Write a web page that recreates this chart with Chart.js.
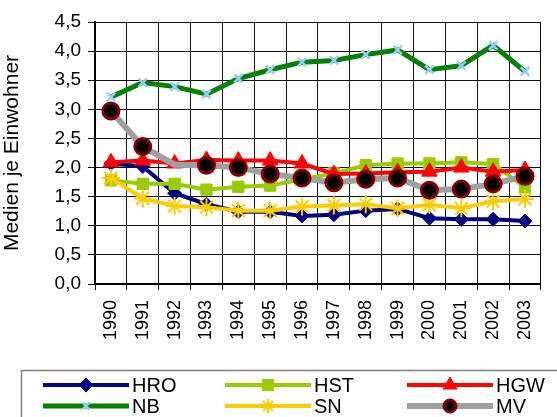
<!DOCTYPE html>
<html>
<head>
<meta charset="utf-8">
<script src="https://cdn.jsdelivr.net/npm/chart.js@4/dist/chart.umd.min.js"></script>
<style>
html,body{margin:0;padding:0;background:#fff;}
#wrap{position:relative;width:557px;height:417px;}
</style>
</head>
<body>
<div id="wrap"><canvas id="c" width="557" height="417"></canvas></div>
<script>
const years = ['1990','1991','1992','1993','1994','1995','1996','1997','1998','1999','2000','2001','2002','2003'];
const yTicks = [0,0.5,1,1.5,2,2.5,3,3.5,4,4.5];
const HRO = [2.07,2.02,1.56,1.37,1.24,1.24,1.17,1.19,1.26,1.29,1.13,1.11,1.11,1.08];
const HST = [1.78,1.72,1.72,1.62,1.67,1.69,1.80,1.90,2.04,2.07,2.07,2.09,2.06,1.66];
const HGW = [2.09,2.12,2.07,2.13,2.12,2.12,2.07,1.89,1.90,1.92,1.93,2.00,1.93,1.96];
const NB  = [3.21,3.46,3.39,3.26,3.53,3.68,3.81,3.84,3.94,4.02,3.68,3.75,4.10,3.65];
const SN  = [1.82,1.47,1.34,1.32,1.26,1.26,1.33,1.35,1.37,1.30,1.36,1.30,1.42,1.46];
const MV  = [2.97,2.36,2.05,2.04,2.00,1.89,1.82,1.74,1.80,1.82,1.61,1.63,1.72,1.85];
// MV marker for 1992 is not visible in the original (hidden behind HGW)
const MV_HIDDEN_MARKER = [2];

const FONT = "'Liberation Sans', Arial, sans-serif";

const datasets = [
  {label:'HRO', data:HRO, borderColor:'#000080', borderWidth:4, pointStyle:'rectRot', pointRadius:7, pointBackgroundColor:'#000080', pointBorderColor:'#000080', pointBorderWidth:1, order:6, legR:7},
  {label:'HST', data:HST, borderColor:'#99CC00', borderWidth:4, pointStyle:'rect', pointRadius:8, pointBackgroundColor:'#99CC00', pointBorderColor:'#99CC00', pointBorderWidth:1, order:5, legR:8},
  {label:'HGW', data:HGW, borderColor:'#FF0000', borderWidth:4, pointStyle:'triangle', pointRadius:9, pointBackgroundColor:'#FF0000', pointBorderColor:'#FF0000', pointBorderWidth:1, order:4, legR:8},
  {label:'NB', data:NB, borderColor:'#008000', borderWidth:5, pointStyle:'crossRot', pointRadius:6, pointBackgroundColor:'#99CCFF', pointBorderColor:'#99CCFF', pointBorderWidth:2.5, order:3, legR:5},
  {label:'SN', data:SN, borderColor:'#FFCC00', borderWidth:4, pointStyle:'star', pointRadius:9, pointBackgroundColor:'#FFCC00', pointBorderColor:'#FFCC00', pointBorderWidth:2, order:2, legR:7},
  {label:'MV', data:MV, borderColor:'#A0A0A0', borderWidth:6, pointStyle:'circle', pointRadius:8, pointBackgroundColor:'#000000', pointBorderColor:'#800000', pointBorderWidth:3, order:1, legR:6}
];
datasets.forEach(d => { d.tension = 0; d.fill = false; d.pointHoverRadius = d.pointRadius; });
datasets[5].pointRadius = c => MV_HIDDEN_MARKER.includes(c.dataIndex) ? 0 : 8;
datasets[5].pointHoverRadius = datasets[5].pointRadius;

const legendPlugin = {
  id: 'boxLegend',
  afterDraw(chart) {
    const ctx = chart.ctx;
    ctx.save();
    ctx.strokeStyle = '#808080';
    ctx.lineWidth = 1.5;
    ctx.strokeRect(21.5, 370.5, 560, 60);
    const cols = [43, 225, 407];
    const rows = [385, 406];
    chart.data.datasets.forEach((d, i) => {
      const x0 = cols[i % 3], y = rows[Math.floor(i / 3)];
      const x1 = x0 + 86;
      ctx.beginPath();
      ctx.strokeStyle = d.borderColor;
      ctx.lineWidth = d.borderWidth;
      ctx.moveTo(x0, y); ctx.lineTo(x1, y);
      ctx.stroke();
      ctx.fillStyle = d.pointBackgroundColor;
      ctx.strokeStyle = d.pointBorderColor;
      ctx.lineWidth = d.pointBorderWidth;
      Chart.helpers.drawPoint(ctx, {pointStyle: d.pointStyle, radius: d.legR, rotation: 0, borderWidth: d.pointBorderWidth}, (x0 + x1) / 2, y);
      ctx.fillStyle = '#000';
      ctx.font = '20px ' + FONT;
      ctx.textBaseline = 'middle';
      ctx.textAlign = 'left';
      ctx.fillText(d.label, x1 + 3, y + 1);
    });
    ctx.restore();
  }
};

new Chart(document.getElementById('c'), {
  type: 'line',
  data: { labels: years, datasets: datasets },
  plugins: [legendPlugin],
  options: {
    responsive: false,
    animation: false,
    events: [],
    layout: { padding: { top: 22, right: 6, left: 0, bottom: 0 } },
    plugins: { legend: { display: false }, tooltip: { enabled: false } },
    scales: {
      x: {
        offset: true,
        grid: { offset: true, color: '#111', lineWidth: 1, tickLength: 6, drawTicks: true },
        border: { color: '#000', width: 2 },
        ticks: { color: '#000', font: { family: FONT, size: 18 }, minRotation: 90, maxRotation: 90, padding: 10, autoSkip: false },
        afterFit(s) { s.height = 133; }
      },
      y: {
        min: 0, max: 4.5,
        afterBuildTicks(s) { s.ticks = yTicks.map(v => ({ value: v })); },
        grid: { color: '#111', lineWidth: 1, tickLength: 7 },
        border: { color: '#000', width: 2 },
        ticks: { color: '#000', font: { family: FONT, size: 19 }, padding: 7,
          callback: v => v.toFixed(1).replace('.', ',') },
        title: { display: true, text: 'Medien je Einwohner', color: '#000', font: { family: FONT, size: 21 }, padding: { top: 0, bottom: 4 } },
        afterFit(s) { s.width = 95; }
      }
    }
  }
});
</script>
</body>
</html>
